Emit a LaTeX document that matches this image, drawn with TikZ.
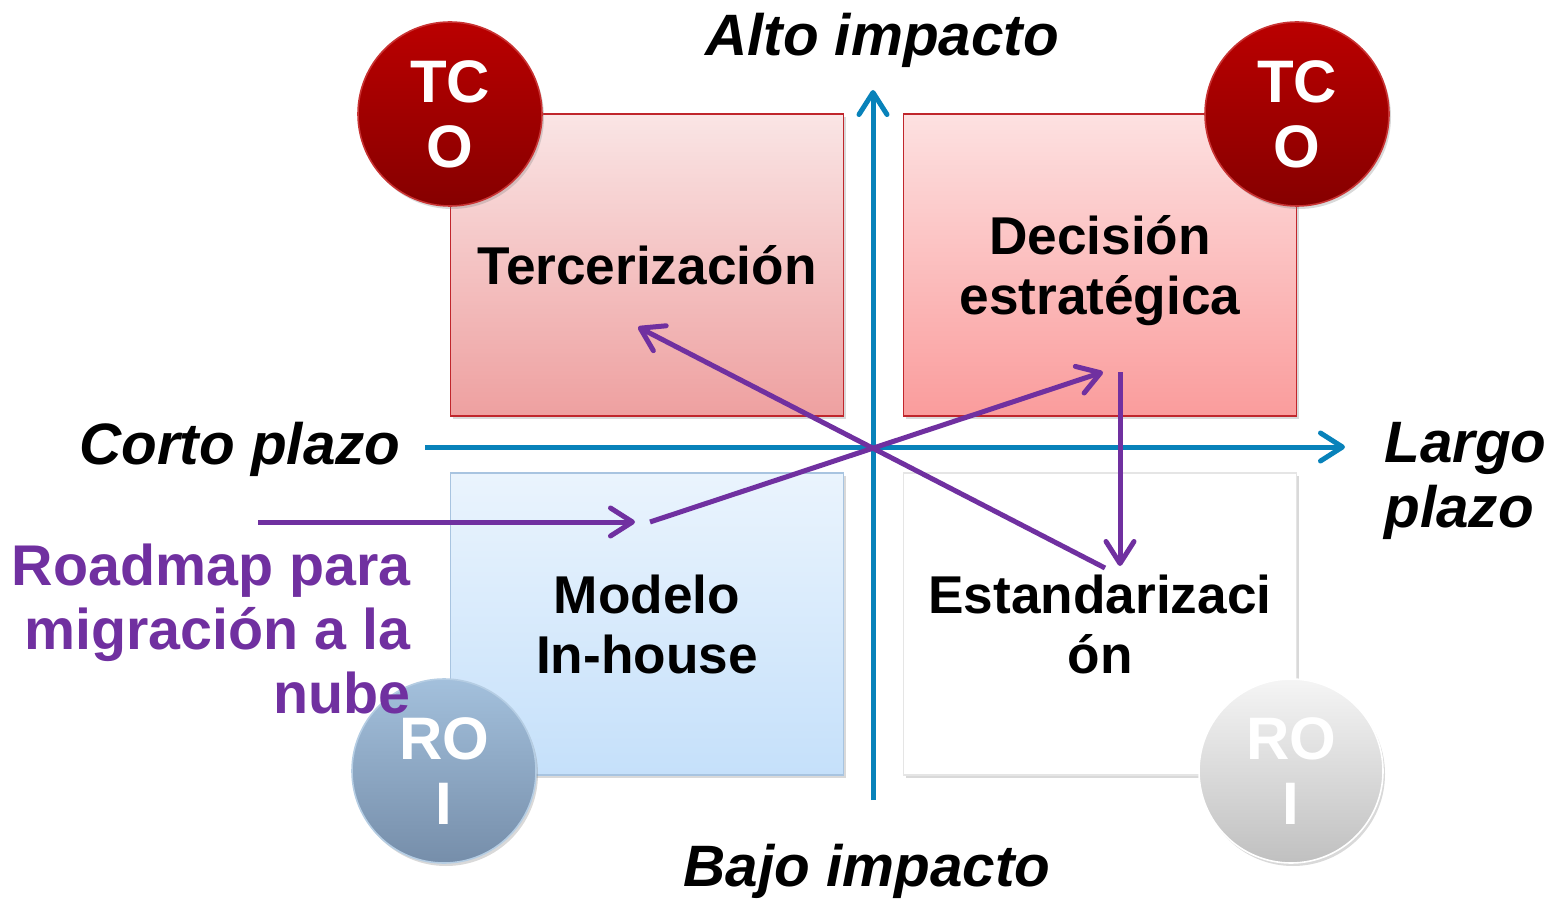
\documentclass[tikz,border=0pt]{standalone}
\usepackage{fontspec}
\setmainfont{Liberation Sans}
\usetikzlibrary{arrows.meta,shadows}

\definecolor{axisblue}{RGB}{8,130,186}
\definecolor{roadpurple}{RGB}{112,48,160}
\definecolor{redtop}{RGB}{250,229,229}
\definecolor{redbot}{RGB}{238,160,160}
\definecolor{pinktop}{RGB}{253,225,225}
\definecolor{pinkbot}{RGB}{250,156,156}
\definecolor{redline}{RGB}{192,38,44}
\definecolor{bluetop}{RGB}{234,244,253}
\definecolor{bluebot}{RGB}{197,224,250}
\definecolor{blueline}{RGB}{168,196,224}
\definecolor{tcotop}{RGB}{186,0,0}
\definecolor{tcobot}{RGB}{134,0,0}
\definecolor{roitop}{RGB}{163,192,220}
\definecolor{roibot}{RGB}{118,142,170}
\definecolor{greytop}{RGB}{245,245,245}
\definecolor{greybot}{RGB}{192,192,192}

\begin{document}
\begin{tikzpicture}[x=0.5pt,y=-0.5pt,>={Straight Barb[length=11pt,width=14pt,round]},
    quad/.style={shape=rectangle,draw,line width=0.8pt,minimum width=196.5pt,minimum height=151pt,align=center,font=\fontsize{26.6}{30}\selectfont\bfseries,drop shadow={shadow xshift=1pt,shadow yshift=-1.5pt,opacity=0.3}},
    badge/.style={shape=circle,minimum size=92pt,inner sep=0pt,line width=0.8pt,text=white,align=center,font=\fontsize{30}{32.5}\selectfont\bfseries,drop shadow={shadow xshift=1pt,shadow yshift=-1.5pt,opacity=0.3}},
    axislabel/.style={inner sep=0pt,font=\fontsize{29.2}{32.5}\selectfont\bfseries\itshape},
    axis/.style={draw=axisblue,line width=2.5pt,->},
    road/.style={draw=roadpurple,line width=2.5pt,->}]
    \useasboundingbox (0,0) rectangle (1553,899);

    % create the nodes
    \node (terc)[quad, draw=redline, top color=redtop, bottom color=redbot] at (647,265) {Tercerización};
    \node (decis)[quad, draw=redline, top color=pinktop, bottom color=pinkbot] at (1100,265) {Decisión\\estraté\smash{g}ica};
    \node (modelo)[quad, draw=blueline, top color=bluetop, bottom color=bluebot] at (647,624) {Modelo\\In-house};
    \node (estand)[quad, draw=black!10, fill=white] at (1100,624) {Estandarizaci\\ón};

    \node (tco1)[badge, draw=tcotop!80!white, top color=tcotop, bottom color=tcobot] at (450,114) {TC\\O};
    \node (tco2)[badge, draw=tcotop!80!white, top color=tcotop, bottom color=tcobot] at (1297,114) {TC\\O};
    \node (roi1)[badge, draw=roitop!80!white, top color=roitop, bottom color=roibot] at (444,771) {RO\\I};
    \node (roi2)[badge, draw=white, top color=greytop, bottom color=greybot] at (1291,771) {RO\\I};

    \node (alto)[axislabel] at (882,40) {Alto impacto};
    \node (bajo)[axislabel] at (867,871) {Bajo impacto};
    \node (corto)[axislabel] at (240,449) {Corto plazo};
    \node (largo)[axislabel, anchor=west, align=left] at (1384,481) {Largo\\plazo};
    \node (roadmap)[inner sep=0pt, anchor=east, align=right, text=roadpurple, font=\fontsize{28.7}{32}\selectfont\bfseries] at (411,629) {Roadmap para\\migración a la\\nube};

    \coordinate (vs) at (873,800);
    \coordinate (ve) at (873,90);
    \coordinate (hs) at (425,447);
    \coordinate (he) at (1345,447);
    \coordinate (rs) at (258,522);
    \coordinate (re) at (635,522);
    \coordinate (ms) at (650,522);
    \coordinate (me) at (1103,372);
    \coordinate (ts) at (1105,568);
    \coordinate (te) at (638,327);
    \coordinate (ds) at (1120,372);
    \coordinate (de) at (1120,566);

    % connect the nodes
    \draw[axis] (vs) to (ve);
    \draw[axis] (hs) to (he);
    \draw[road] (rs) to (re);
    \draw[road] (ms) to (me);
    \draw[road] (ts) to (te);
    \draw[road] (ds) to (de);

\end{tikzpicture}
\end{document}
